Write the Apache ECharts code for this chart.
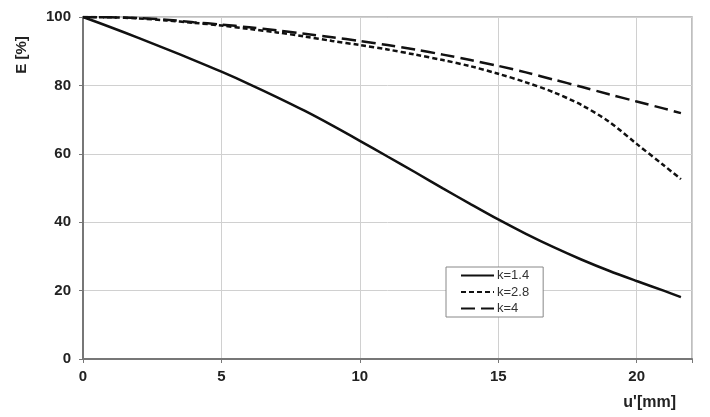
<!DOCTYPE html>
<html>
<head>
<meta charset="utf-8">
<script src="https://cdn.jsdelivr.net/npm/echarts@6/dist/echarts.min.js"></script>
<style>html,body{margin:0;padding:0;background:#fff}#c{width:710px;height:417px}</style>
</head>
<body>
<div id="c"></div>
<script>
const uValues = [0,1,2,3,4,5,6,7,8,9,10,11,12,13,14,15,16,17,18,19,20,21,21.6];
const seriesNames = ['k=1.4','k=2.8','k=4'];
const eK14 = [100,97.0,93.9,90.7,87.4,84.0,80.4,76.6,72.6,68.3,63.8,59.2,54.6,49.9,45.3,40.8,36.6,32.7,29.1,25.8,22.8,19.9,18.1];
const eK28 = [100,99.9,99.6,99.0,98.3,97.5,96.5,95.5,94.3,93.0,91.8,90.5,89.0,87.4,85.6,83.4,80.9,78.0,74.3,69.4,62.9,56.5,52.6];
const eK4  = [100,99.9,99.7,99.2,98.5,97.8,97.0,96.1,95.1,94.1,93.0,91.8,90.5,89.0,87.4,85.7,83.8,81.7,79.6,77.4,75.3,73.2,71.9];
const xTicks = [0,5,10,15,20];
const yTicks = [0,20,40,60,80,100];

const pairs = arr => uValues.map((u,i)=>[u,arr[i]]);
const dashes = ['solid',[5,3],[14,6]];
const allData = [eK14,eK28,eK4];

const chart = echarts.init(document.getElementById('c'));
chart.setOption({
  backgroundColor:'#fff',
  animation:false,
  grid:{left:83,right:18,top:17,bottom:58,show:true,borderColor:'#aaa',borderWidth:1.5,containLabel:false},
  xAxis:{type:'value',min:0,max:22,interval:5,
    axisLine:{show:true,onZero:false,lineStyle:{color:'#777',width:2}},
    axisTick:{show:true,length:4,lineStyle:{color:'#777'}},
    axisLabel:{margin:10,color:'#222',fontSize:15,fontWeight:'bold',fontFamily:'Arial, Liberation Sans, sans-serif',
      formatter:v=>xTicks.includes(v)?String(v):''},
    splitLine:{show:true,lineStyle:{color:'#d0d0d0',width:1}}},
  yAxis:{type:'value',min:0,max:100,interval:20,
    axisLine:{show:true,onZero:false,lineStyle:{color:'#777',width:2}},
    axisTick:{show:true,length:4,lineStyle:{color:'#777'}},
    axisLabel:{margin:12,color:'#222',fontSize:15,fontWeight:'bold',fontFamily:'Arial, Liberation Sans, sans-serif',
      formatter:v=>yTicks.includes(v)?String(v):''},
    splitLine:{show:true,lineStyle:{color:'#d0d0d0',width:1}}},
  legend:{orient:'vertical',left:446,top:267,padding:[2,14,2,14],itemWidth:33,itemHeight:14,itemGap:3.5,
    backgroundColor:'#fff',borderColor:'#888',borderWidth:1,
    itemStyle:{opacity:0},
    textStyle:{fontSize:13,color:'#333',fontFamily:'Arial, Liberation Sans, sans-serif',padding:[0,0,0,-2]},
    data:seriesNames},
  graphic:[
    {type:'text',x:22,y:55,rotation:Math.PI/2,style:{text:'E [%]',fontSize:15,fontWeight:'bold',fill:'#222',fontFamily:'Arial, Liberation Sans, sans-serif',align:'center',verticalAlign:'middle'}},
    {type:'text',x:676,y:403,style:{text:"u'[mm]",fontSize:16,fontWeight:'bold',fill:'#222',fontFamily:'Arial, Liberation Sans, sans-serif',align:'right',verticalAlign:'middle'}}
  ],
  series:seriesNames.map((n,i)=>({
    name:n,type:'line',data:pairs(allData[i]),symbol:'none',smooth:0.3,
    lineStyle:{color:'#111',width:2.5,type:dashes[i]},itemStyle:{color:'#111'},z:3
  }))
});
</script>
</body>
</html>
